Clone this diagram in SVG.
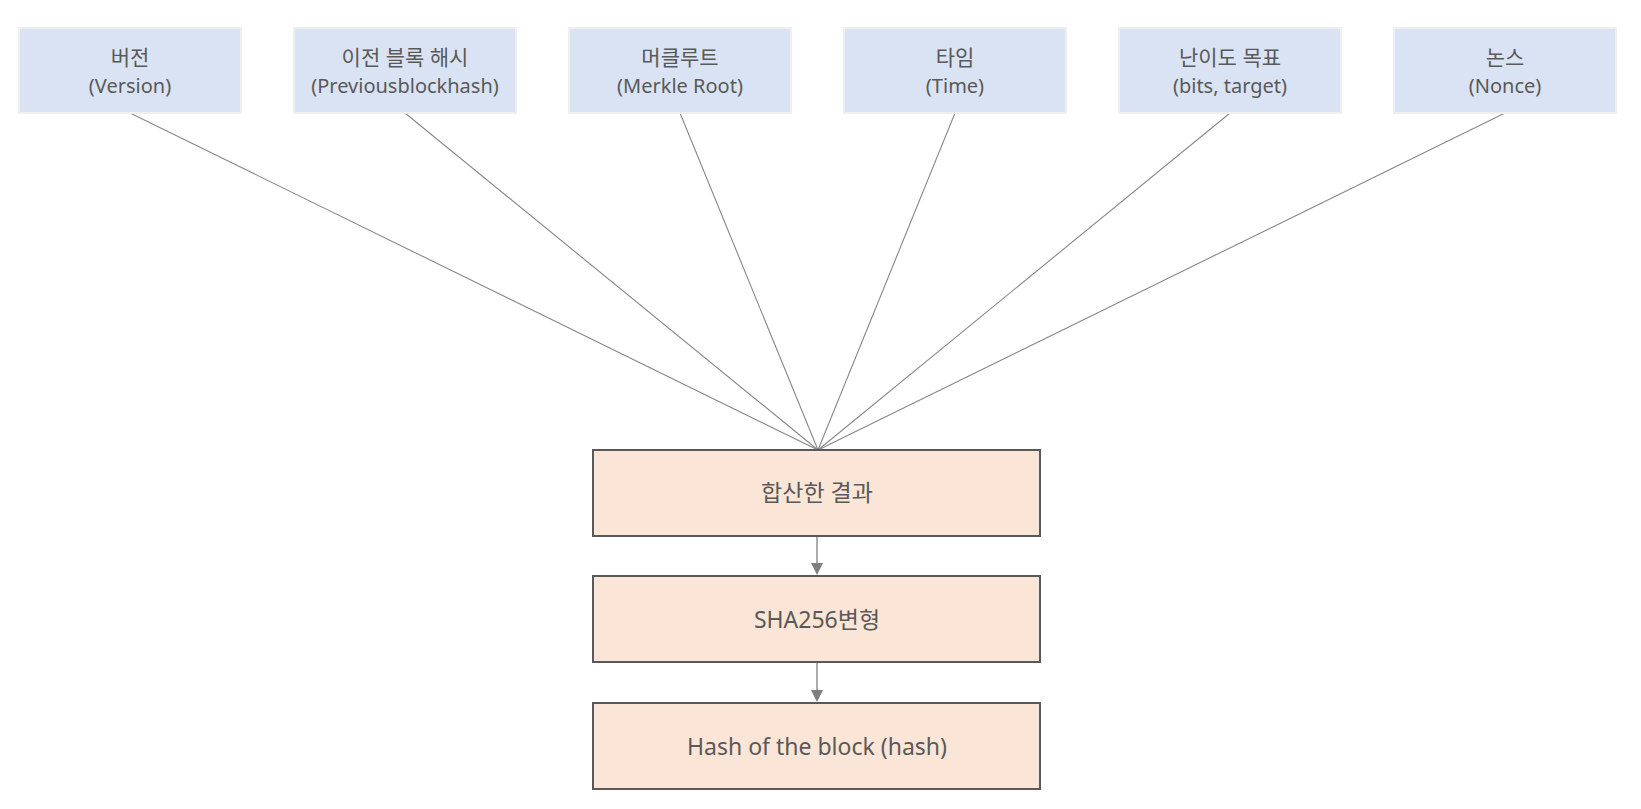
<svg xmlns="http://www.w3.org/2000/svg" width="1641" height="809" viewBox="0 0 1641 809">
<defs>
<style>
.top rect{fill:#dae3f3;stroke:#efefef;stroke-width:2}
.bot rect{fill:#fbe5d6;stroke:#595959;stroke-width:2}
text{font-family:"Noto Sans","Noto Sans CJK KR",sans-serif;fill:#595959;text-anchor:middle}
.t{font-size:20px}
.k{font-size:21px}
.b{font-size:23px}
.conn line{stroke:#878787;stroke-width:1.1}
.conn .arr{stroke:#7f7f7f;stroke-width:1.3}
</style>
</defs>
<rect width="1641" height="809" fill="#ffffff"/>
<g class="conn">
<line x1="130" y1="113" x2="818" y2="450"/>
<line x1="405" y1="113" x2="818" y2="450"/>
<line x1="680" y1="113" x2="818" y2="450"/>
<line x1="955" y1="113" x2="818" y2="450"/>
<line x1="1230" y1="113" x2="818" y2="450"/>
<line x1="1505" y1="113" x2="818" y2="450"/>
<line class="arr" x1="817" y1="537" x2="817" y2="564"/>
<path d="M811,563 L823,563 L817,575 Z" fill="#7f7f7f"/>
<line class="arr" x1="817" y1="663" x2="817" y2="691"/>
<path d="M811,690 L823,690 L817,702 Z" fill="#7f7f7f"/>
</g>
<g id="n1" class="top"><rect x="19" y="28" width="222" height="85"/><text class="k" x="130" y="65">버전</text><text class="t" x="130" y="93">(Version)</text></g>
<g id="n2" class="top"><rect x="294" y="28" width="222" height="85"/><text class="k" x="405" y="65">이전 블록 해시</text><text class="t" x="405" y="93">(Previousblockhash)</text></g>
<g id="n3" class="top"><rect x="569" y="28" width="222" height="85"/><text class="k" x="680" y="65">머클루트</text><text class="t" x="680" y="93">(Merkle Root)</text></g>
<g id="n4" class="top"><rect x="844" y="28" width="222" height="85"/><text class="k" x="955" y="65">타임</text><text class="t" x="955" y="93">(Time)</text></g>
<g id="n5" class="top"><rect x="1119" y="28" width="222" height="85"/><text class="k" x="1230" y="65">난이도 목표</text><text class="t" x="1230" y="93">(bits, target)</text></g>
<g id="n6" class="top"><rect x="1394" y="28" width="222" height="85"/><text class="k" x="1505" y="65">논스</text><text class="t" x="1505" y="93">(Nonce)</text></g>
<g id="n7" class="bot"><rect x="593" y="450" width="447" height="86"/><text class="b" x="817" y="501">합산한 결과</text></g>
<g id="n8" class="bot"><rect x="593" y="576" width="447" height="86"/><text class="b" x="817" y="628">SHA256변형</text></g>
<g id="n9" class="bot"><rect x="593" y="703" width="447" height="86"/><text class="b" x="817" y="755">Hash of the block (hash)</text></g>
</svg>
